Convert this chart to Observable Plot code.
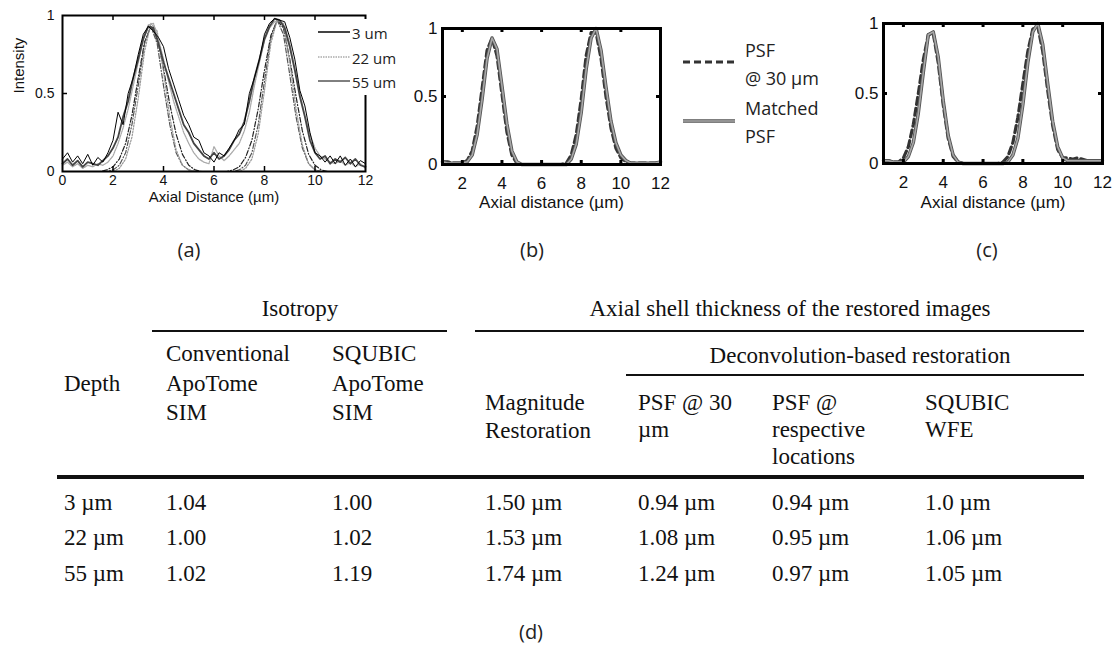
<!DOCTYPE html>
<html><head><meta charset="utf-8">
<script src="https://cdn.jsdelivr.net/npm/d3@7"></script>
<script src="https://cdn.jsdelivr.net/npm/@observablehq/plot@0.6"></script>
<style>
html,body{margin:0;padding:0;background:#fff;}
#root{position:relative;width:1117px;height:645px;overflow:hidden;background:#fff;}
.abs{position:absolute;white-space:nowrap;line-height:1;}
.cal{font-family:"Open Sans","Noto Sans",sans-serif;color:#222;}
.serif{font-family:"Liberation Serif","Times New Roman",serif;font-size:23px;color:#111;}
svg{max-width:none !important;}
</style></head><body><div id="root"></div>
<script>
// ---------------- DATA ----------------
// Panel (a): measured profiles, x from 0 to 12 µm every 0.2 µm
const aMeasStep = 0.2;
const m3 = [.05,.08,.04,.07,.03,.06,.05,.04,.07,.1, .15,.22,.35,.45,.6,.72,.85,.93,.92,.82, .7,.6,.5,.4,.3,.25,.18,.14,.1,.08, .12,.08,.1,.14,.2,.24,.32,.45,.6,.72, .85,.93,.98,.97,.92,.8,.65,.48,.35,.2, .12,.08,.1,.05,.08,.06,.09,.05,.08,.04, .03];
const m22 = [.04,.06,.03,.05,.02,.04,.03,.05,.04,.06, .1,.18,.28,.4,.55,.7,.85,.94,.95,.85, .72,.58,.45,.35,.25,.18,.12,.08,.06,.05, .16,.1,.07,.1,.14,.18,.26,.38,.55,.7, .84,.92,.96,.97,.93,.82,.66,.5,.36,.24, .15,.1,.08,.06,.05,.07,.04,.06,.03,.05, .02];
const m55 = [.08,.12,.06,.1,.05,.11,.04,.09,.06,.12, .2,.38,.3,.5,.6,.75,.88,.93,.9,.86, .8,.66,.56,.46,.36,.3,.22,.2,.12,.1, .06,.12,.1,.15,.2,.27,.3,.5,.6,.72, .88,.95,.98,.97,.96,.86,.72,.52,.42,.25, .12,.1,.06,.1,.05,.1,.04,.08,.03,.07, .05];
// Panel (a): fitted profiles, x from 0 to 12 µm every 0.25 µm
const aFitStep = 0.25;
const f3 = [0,0,0,0,0,0,0,0, .01,.04,.12,.3,.55,.82,.93,.82, .55,.3,.12,.04,.01,0,0,0, 0,0,0,0,.01,.04,.12,.3, .58,.85,.97,.88,.62,.35,.15,.05, .01,0,0,0,0,0,0,0, 0];
const f22 = [0,0,0,0,0,0,0,0, 0,.02,.08,.22,.47,.77,.95,.9, .64,.35,.14,.04,.01,0,0,0, 0,0,0,0,0,.02,.08,.24, .52,.82,.97,.95,.7,.4,.17,.05, .01,0,0,0,0,0,0,0, 0];
const f55 = [0,0,0,0,0,0,0,.01, .03,.08,.18,.36,.6,.83,.93,.86, .66,.43,.24,.11,.04,.01,0,0, 0,0,0,.01,.03,.09,.2,.4, .65,.87,.97,.92,.72,.48,.26,.11, .04,.01,0,0,0,0,0,0, 0];
// Panels (b),(c): x from 1 to 12 µm every 0.25 µm
const bcStart = 1, bcStep = 0.25;
const bPsf30 = [.02,.02,.01,.01,.01,.03,.1,.28, .56,.84,.93,.8,.52,.24,.07,.01, 0,0,0,0,0,0,0,0, 0,.01,.07,.22,.48,.8,.97,.97, .78,.5,.27,.12,.05,.02,.01,.01, .01,.01,.01,.01,.02];
const bMatched = [.02,.01,.01,.01,.01,.02,.07,.22, .48,.78,.93,.85,.58,.3,.1,.02, 0,0,0,0,0,0,0,0, 0,0,.04,.15,.38,.7,.93,1.0, .84,.57,.32,.16,.07,.03,.01,.01, .01,.01,.01,.01,.02];
const cPsf30 = [.02,.02,.01,.01,.04,.12,.28,.5, .74,.92,.93,.72,.42,.18,.05,.01, 0,0,0,0,0,0,0,0, .01,.05,.15,.33,.57,.8,.96,.98, .8,.52,.27,.1,.04,.04,.03,.04, .03,.02,.02,.02,.02];
const cMatched = [.02,.02,.01,.01,.01,.05,.15,.36, .65,.92,.94,.76,.45,.2,.06,.01, 0,0,0,0,0,0,0,0, 0,.01,.06,.18,.42,.72,.94,1.0, .85,.57,.3,.12,.04,.02,.02,.02, .02,.02,.02,.02,.02];

const aLegend = ["3 um", "22 um", "55 um"];
const bcLegend = [["PSF", "@ 30 µm"], ["Matched", "PSF"]];
const xTicksA = [0, 2, 4, 6, 8, 10, 12];
const xTicksBC = [2, 4, 6, 8, 10, 12];
const yTicks = [0, 0.5, 1];
const panelLabels = ["(a)", "(b)", "(c)", "(d)"];

// Table
const groupIso = "Isotropy";
const groupAxial = "Axial shell thickness of the restored images";
const groupDeconv = "Deconvolution-based restoration";
const headDepth = "Depth";
const headers = [
  ["Conventional", "ApoTome", "SIM"],
  ["SQUBIC", "ApoTome", "SIM"],
  ["Magnitude", "Restoration"],
  ["PSF @ 30", "µm"],
  ["PSF @", "respective", "locations"],
  ["SQUBIC", "WFE"]
];
const depths = ["3 µm", "22 µm", "55 µm"];
const isoConventional = ["1.04", "1.00", "1.02"];
const isoSqubic = ["1.00", "1.02", "1.19"];
const magnitudeRest = ["1.50 µm", "1.53 µm", "1.74 µm"];
const psfAt30 = ["0.94 µm", "1.08 µm", "1.24 µm"];
const psfRespective = ["0.94 µm", "0.95 µm", "0.97 µm"];
const squbicWfe = ["1.0 µm", "1.06 µm", "1.05 µm"];

// ---------------- HELPERS ----------------
const root = document.getElementById("root");
const toXY = (arr, start, step) => arr.map((y, i) => ({x: start + i * step, y}));

function addDiv(cls, text, x, y, align = "left", size) {
  const d = document.createElement("div");
  d.className = "abs " + cls;
  d.textContent = text;
  d.style.left = x + "px";
  d.style.top = y + "px";
  const tx = align === "center" ? "-50%" : align === "right" ? "-100%" : "0";
  d.style.transform = `translate(${tx}, -50%)`;
  if (size) d.style.fontSize = size + "px";
  root.appendChild(d);
  return d;
}
function addRule(x1, x2, y, w) {
  const d = document.createElement("div");
  d.className = "abs";
  Object.assign(d.style, {left: x1 + "px", top: (y - w / 2) + "px", width: (x2 - x1) + "px", height: w + "px", background: "#111"});
  root.appendChild(d);
}

function panel(cfg) {
  const innerH = cfg.h - cfg.mT - cfg.mB, innerW = cfg.w - cfg.mL - cfg.mR;
  const marks = [];
  for (const c of cfg.curves) {
    marks.push(Plot.line(c.data, {x: "x", y: "y", stroke: c.stroke, strokeWidth: c.width, strokeDasharray: c.dash, strokeLinejoin: "round"}));
  }
  marks.push(Plot.tickX(cfg.inTicks, {x: d => d, insetTop: innerH - cfg.tickLen, stroke: "#000", strokeWidth: cfg.tickW}));
  marks.push(Plot.tickX(cfg.inTicks, {x: d => d, insetBottom: innerH - cfg.tickLen, stroke: "#000", strokeWidth: cfg.tickW}));
  marks.push(Plot.tickY([0.5], {y: d => d, insetRight: innerW - cfg.tickLen, stroke: "#000", strokeWidth: cfg.tickW}));
  marks.push(Plot.tickY([0.5], {y: d => d, insetLeft: innerW - cfg.tickLen, stroke: "#000", strokeWidth: cfg.tickW}));
  marks.push(Plot.frame({stroke: "#000", strokeWidth: cfg.frameW}));
  marks.push(Plot.axisX(cfg.xTicks, {anchor: "bottom", tickSize: 0, tickPadding: cfg.padX, fontSize: cfg.fs, tickFormat: d => String(d), label: null}));
  marks.push(Plot.axisY(yTicks, {anchor: "left", tickSize: 0, tickPadding: cfg.padY, fontSize: cfg.fs, tickFormat: d => String(d), label: null}));
  marks.push(Plot.text([cfg.xlabel], {text: d => d, frameAnchor: "bottom", dy: cfg.xlabelDy, fontSize: cfg.labelFs}));
  if (cfg.ylabel) marks.push(Plot.text([cfg.ylabel], {text: d => d, frameAnchor: "left", dx: cfg.ylabelDx, rotate: -90, fontSize: cfg.labelFs}));
  const svg = Plot.plot({
    width: cfg.w, height: cfg.h,
    marginLeft: cfg.mL, marginRight: cfg.mR, marginTop: cfg.mT, marginBottom: cfg.mB,
    x: {domain: cfg.xDomain, label: null},
    y: {domain: [0, 1], label: null},
    style: {fontFamily: '"Liberation Sans", Arial, sans-serif', color: "#111", background: "transparent", overflow: "visible"},
    marks
  });
  const wrap = document.createElement("div");
  wrap.className = "abs";
  wrap.style.left = cfg.left + "px";
  wrap.style.top = cfg.top + "px";
  wrap.appendChild(svg);
  root.appendChild(wrap);
}

// ---------------- PANEL (a) ----------------
panel({
  left: 0, top: 0, w: 420, h: 215, mL: 62, mR: 55, mT: 15, mB: 44,
  xDomain: [0, 12], xTicks: xTicksA, inTicks: [2, 4, 6, 8, 10],
  fs: 14, labelFs: 15, padX: 4, padY: 8, tickLen: 5, tickW: 1.5, frameW: 2,
  xlabel: "Axial Distance (µm)", xlabelDy: 30, ylabel: "Intensity", ylabelDx: -43,
  curves: [
    {data: toXY(f55, 0, aFitStep), stroke: "#222", width: 1.2, dash: "5,2,1,2"},
    {data: toXY(f3, 0, aFitStep), stroke: "#555", width: 1.2, dash: "5,2,1,2"},
    {data: toXY(f22, 0, aFitStep), stroke: "#999", width: 1.2, dash: "1.5,1.5"},
    {data: toXY(m22, 0, aMeasStep), stroke: "#aaa", width: 1.3, dash: "1.5,1"},
    {data: toXY(m3, 0, aMeasStep), stroke: "#444", width: 1.8},
    {data: toXY(m55, 0, aMeasStep), stroke: "#000", width: 1}
  ]
});

// legend (a) with white box covering the frame corner
(function () {
  const box = document.createElement("div");
  box.className = "abs";
  Object.assign(box.style, {left: "316px", top: "19px", width: "86px", height: "76px", background: "#fff"});
  root.appendChild(box);
  const styles = [{stroke: "#444", w: 2, dash: ""}, {stroke: "#aaa", w: 1.3, dash: "1.5,1"}, {stroke: "#000", w: 1, dash: ""}];
  const ys = [32, 57, 81];
  const svgNS = "http://www.w3.org/2000/svg";
  const s = document.createElementNS(svgNS, "svg");
  s.setAttribute("width", 1117); s.setAttribute("height", 120);
  s.style.position = "absolute"; s.style.left = "0"; s.style.top = "0";
  aLegend.forEach((t, i) => {
    const l = document.createElementNS(svgNS, "line");
    l.setAttribute("x1", 318); l.setAttribute("x2", 350);
    l.setAttribute("y1", ys[i]); l.setAttribute("y2", ys[i]);
    l.setAttribute("stroke", styles[i].stroke); l.setAttribute("stroke-width", styles[i].w);
    if (styles[i].dash) l.setAttribute("stroke-dasharray", styles[i].dash);
    s.appendChild(l);
  });
  root.appendChild(s);
  aLegend.forEach((t, i) => addDiv("cal", t, 352, ys[i] + 1, "left", 15));
})();

// ---------------- PANEL (b) ----------------
panel({
  left: 400, top: 0, w: 280, h: 225, mL: 42, mR: 20, mT: 28, mB: 61,
  xDomain: [1, 12], xTicks: xTicksBC, inTicks: [2, 4, 6, 8, 10],
  fs: 17, labelFs: 17, padX: 12, padY: 5, tickLen: 4, tickW: 3, frameW: 3,
  xlabel: "Axial distance (µm)", xlabelDy: 43,
  curves: [
    {data: toXY(bPsf30, bcStart, bcStep), stroke: "#333", width: 3.2, dash: "7,4"},
    {data: toXY(bMatched, bcStart, bcStep), stroke: "#555", width: 3.4},
    {data: toXY(bMatched, bcStart, bcStep), stroke: "#a8a8a8", width: 1.6}
  ]
});

// ---------------- PANEL (c) ----------------
panel({
  left: 840, top: 0, w: 277, h: 225, mL: 43, mR: 15, mT: 23, mB: 62,
  xDomain: [1, 12], xTicks: xTicksBC, inTicks: [2, 4, 6, 8, 10],
  fs: 17, labelFs: 17, padX: 12, padY: 5, tickLen: 4, tickW: 3, frameW: 3,
  xlabel: "Axial distance (µm)", xlabelDy: 44,
  curves: [
    {data: toXY(cPsf30, bcStart, bcStep), stroke: "#333", width: 3.2, dash: "7,4"},
    {data: toXY(cMatched, bcStart, bcStep), stroke: "#555", width: 3.4},
    {data: toXY(cMatched, bcStart, bcStep), stroke: "#a8a8a8", width: 1.6}
  ]
});

// legend (b)/(c)
(function () {
  const svgNS = "http://www.w3.org/2000/svg";
  const s = document.createElementNS(svgNS, "svg");
  s.setAttribute("width", 1117); s.setAttribute("height", 160);
  s.style.position = "absolute"; s.style.left = "0"; s.style.top = "0";
  const mk = (y, stroke, w, dash) => {
    const l = document.createElementNS(svgNS, "line");
    l.setAttribute("x1", 683); l.setAttribute("x2", 735);
    l.setAttribute("y1", y); l.setAttribute("y2", y);
    l.setAttribute("stroke", stroke); l.setAttribute("stroke-width", w);
    if (dash) l.setAttribute("stroke-dasharray", dash);
    s.appendChild(l);
  };
  mk(62, "#333", 3.2, "7,4");
  mk(121, "#555", 3.4, "");
  mk(121, "#a8a8a8", 1.6, "");
  root.appendChild(s);
  addDiv("cal", bcLegend[0][0], 745, 50, "left", 18);
  addDiv("cal", bcLegend[0][1], 745, 78, "left", 18);
  addDiv("cal", bcLegend[1][0], 745, 108, "left", 18);
  addDiv("cal", bcLegend[1][1], 745, 136, "left", 18);
})();

// panel labels
addDiv("cal", panelLabels[0], 189, 250, "center", 20);
addDiv("cal", panelLabels[1], 532, 250, "center", 20);
addDiv("cal", panelLabels[2], 987, 250, "center", 20);
addDiv("cal", panelLabels[3], 531, 632, "center", 20);

// ---------------- TABLE (d) ----------------
const colX = [64, 166, 332, 485, 638, 772, 925];
addDiv("serif", groupIso, 300, 308, "center");
addDiv("serif", groupAxial, 790, 308, "center");
addRule(152, 447, 331, 2.5);
addRule(475, 1084, 331, 2.5);
addDiv("serif", groupDeconv, 860, 355, "center");
addRule(626, 1084, 375, 2.5);
addDiv("serif", headDepth, colX[0], 383);
const headY = [[353, 383, 412], [353, 383, 412], [402, 430], [402, 429], [402, 429, 456], [402, 429]];
headers.forEach((lines, j) => lines.forEach((t, k) => addDiv("serif", t, colX[j + 1], headY[j][k])));
addRule(57, 1084, 477, 4);
const rowY = [502, 537, 573];
const cols = [depths, isoConventional, isoSqubic, magnitudeRest, psfAt30, psfRespective, squbicWfe];
cols.forEach((col, j) => col.forEach((t, i) => addDiv("serif", t, colX[j], rowY[i])));
</script></body></html>
